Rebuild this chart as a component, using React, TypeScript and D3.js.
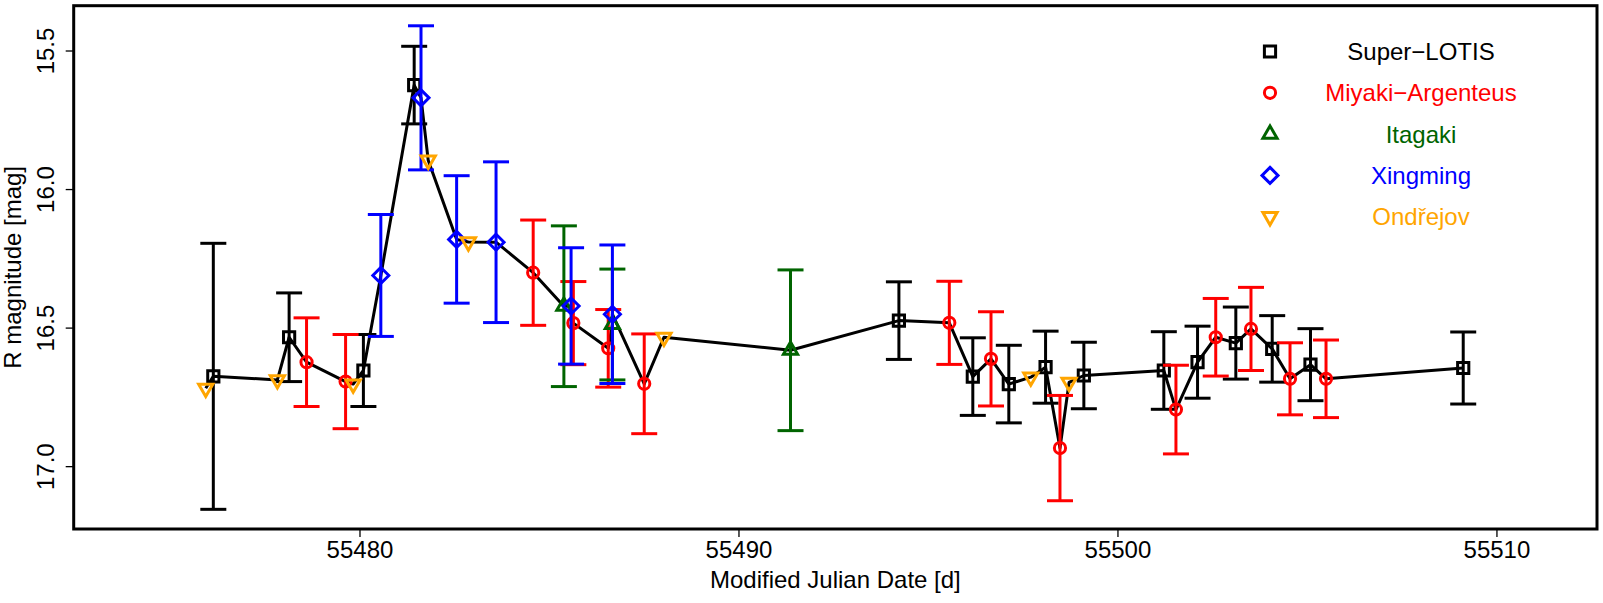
import React from "react";
import * as d3 from "d3";

// ---- Data ----
const superLotisMJD = [55476.13, 55478.13, 55480.09, 55481.43, 55494.22, 55496.17, 55497.12, 55498.09, 55499.10, 55501.21, 55502.10, 55503.11, 55504.07, 55505.08, 55509.11];
const superLotisMag = [16.674, 16.533, 16.653, 15.623, 16.473, 16.675, 16.702, 16.641, 16.671, 16.653, 16.623, 16.554, 16.575, 16.632, 16.644];
const superLotisErr = [0.48, 0.16, 0.13, 0.14, 0.14, 0.14, 0.14, 0.13, 0.12, 0.14, 0.13, 0.13, 0.12, 0.13, 0.13];

const miyakiMJD = [55478.59, 55479.62, 55484.57, 55485.63, 55486.55, 55487.50, 55495.55, 55496.65, 55498.47, 55501.53, 55502.58, 55503.51, 55504.54, 55505.49];
const miyakiMag = [16.623, 16.693, 16.300, 16.482, 16.573, 16.701, 16.481, 16.611, 16.933, 16.794, 16.533, 16.503, 16.683, 16.683];
const miyakiErr = [0.16, 0.17, 0.19, 0.15, 0.14, 0.18, 0.15, 0.17, 0.19, 0.16, 0.14, 0.15, 0.13, 0.14];

const itagakiMJD = [55485.38, 55486.66, 55491.36];
const itagakiMag = [16.421, 16.487, 16.580];
const itagakiErr = [0.29, 0.2, 0.29];

const xingmingMJD = [55480.55, 55481.61, 55482.55, 55483.59, 55485.57, 55486.66];
const xingmingMag = [16.310, 15.669, 16.180, 16.190, 16.420, 16.450];
const xingmingErr = [0.22, 0.26, 0.23, 0.29, 0.21, 0.25];

const ondrejovMJD = [55475.93, 55477.82, 55479.82, 55481.80, 55482.86, 55488.02, 55497.70, 55498.71];
const ondrejovMag = [16.717, 16.687, 16.702, 15.894, 16.189, 16.533, 16.677, 16.696];

const xTicks = [55480, 55490, 55500, 55510];
const yTicks = [15.5, 16.0, 16.5, 17.0];

const seriesNames = ["Super\u2212LOTIS", "Miyaki\u2212Argenteus", "Itagaki", "Xingming", "Ond\u0159ejov"];
const seriesColors = ["#000000", "#FF0000", "#006400", "#0000FF", "#FFA500"];
const seriesShapes = ["square", "circle", "triangle", "diamond", "downtriangle"];

type Pt = { t: number; m: number; e: number | null };

const series = [
  superLotisMJD.map((t, i) => ({ t, m: superLotisMag[i], e: superLotisErr[i] })),
  miyakiMJD.map((t, i) => ({ t, m: miyakiMag[i], e: miyakiErr[i] })),
  itagakiMJD.map((t, i) => ({ t, m: itagakiMag[i], e: itagakiErr[i] })),
  xingmingMJD.map((t, i) => ({ t, m: xingmingMag[i], e: xingmingErr[i] })),
  ondrejovMJD.map((t, i) => ({ t, m: ondrejovMag[i], e: null })),
] as Pt[][];

// ---- Layout ----
const W = 1603;
const H = 603;
const L = 73.7, R = 1597, T = 5.7, B = 529;
const FONT = "'Liberation Sans', Arial, Helvetica, sans-serif";

const x = d3.scaleLinear().domain([55472.446, 55512.64]).range([L, R]);
const y = d3.scaleLinear().domain([15.3365, 17.225]).range([T, B]);

function markerPath(shape: string): string {
  const p = d3.path();
  if (shape === "square") {
    const s = 5.6;
    p.rect(-s, -s, 2 * s, 2 * s);
  } else if (shape === "circle") {
    p.arc(0, 0, 5.6, 0, 2 * Math.PI);
    p.closePath();
  } else if (shape === "triangle" || shape === "downtriangle") {
    const r = 8.2;
    const sgn = shape === "triangle" ? 1 : -1;
    p.moveTo(0, -sgn * r);
    p.lineTo((r * Math.sqrt(3)) / 2, (sgn * r) / 2);
    p.lineTo((-r * Math.sqrt(3)) / 2, (sgn * r) / 2);
    p.closePath();
  } else if (shape === "diamond") {
    const r = 8;
    p.moveTo(0, -r);
    p.lineTo(r, 0);
    p.lineTo(0, r);
    p.lineTo(-r, 0);
    p.closePath();
  }
  return p.toString();
}

export default function App() {
  const all = series.flat().slice().sort((a, b) => a.t - b.t);
  const line = d3
    .line<Pt>()
    .x((d) => x(d.t))
    .y((d) => y(d.m));

  const cap = 13;

  return (
    <svg
      width={W}
      height={H}
      style={{ position: "absolute", left: 0, top: 0, background: "#fff" }}
      fontFamily={FONT}
    >
      <rect x={0} y={0} width={W} height={H} fill="#fff" />
      {/* connecting line */}
      <path d={line(all) || ""} fill="none" stroke="#000" strokeWidth={3} strokeLinejoin="round" />

      {series.map((pts, si) => (
        <g key={si}>
          {pts
            .filter((d) => d.e !== null)
            .map((d, i) => {
              const cx = x(d.t);
              const y1 = y(d.m - (d.e as number));
              const y2 = y(d.m + (d.e as number));
              return (
                <g key={i} stroke={seriesColors[si]} strokeWidth={3} fill="none">
                  <line x1={cx} x2={cx} y1={y1} y2={y2} />
                  <line x1={cx - cap} x2={cx + cap} y1={y1} y2={y1} />
                  <line x1={cx - cap} x2={cx + cap} y1={y2} y2={y2} />
                </g>
              );
            })}
          {pts.map((d, i) => (
            <path
              key={"m" + i}
              d={markerPath(seriesShapes[si])}
              transform={`translate(${x(d.t)},${y(d.m)})`}
              fill="none"
              stroke={seriesColors[si]}
              strokeWidth={3}
            />
          ))}
        </g>
      ))}

      {/* frame */}
      <rect x={L} y={T} width={R - L} height={B - T} fill="none" stroke="#000" strokeWidth={3} />

      {/* x axis */}
      {xTicks.map((t) => (
        <g key={t}>
          <line x1={x(t)} x2={x(t)} y1={B} y2={B + 8} stroke="#000" strokeWidth={1.3} />
          <text x={x(t)} y={558} fontSize={24} textAnchor="middle" fill="#000">
            {t}
          </text>
        </g>
      ))}
      <text x={(L + R) / 2} y={588} fontSize={24} textAnchor="middle" fill="#000">
        Modified Julian Date [d]
      </text>

      {/* y axis */}
      {yTicks.map((t) => (
        <g key={t}>
          <line x1={L - 8} x2={L} y1={y(t)} y2={y(t)} stroke="#000" strokeWidth={1.3} />
          <text
            transform={`translate(54,${y(t)}) rotate(-90)`}
            fontSize={24}
            textAnchor="middle"
            fill="#000"
          >
            {d3.format(".1f")(t)}
          </text>
        </g>
      ))}
      <text
        transform={`translate(21,${(T + B) / 2}) rotate(-90)`}
        fontSize={24}
        textAnchor="middle"
        fill="#000"
      >
        R magnitude [mag]
      </text>

      {/* legend */}
      {seriesNames.map((name, i) => {
        const ry = 51.5 + i * 41.3;
        return (
          <g key={name}>
            <path
              d={markerPath(seriesShapes[i])}
              transform={`translate(1270,${ry})`}
              fill="none"
              stroke={seriesColors[i]}
              strokeWidth={3}
            />
            <text x={1421} y={ry + 8.5} fontSize={24} textAnchor="middle" fill={seriesColors[i]}>
              {name}
            </text>
          </g>
        );
      })}
    </svg>
  );
}
